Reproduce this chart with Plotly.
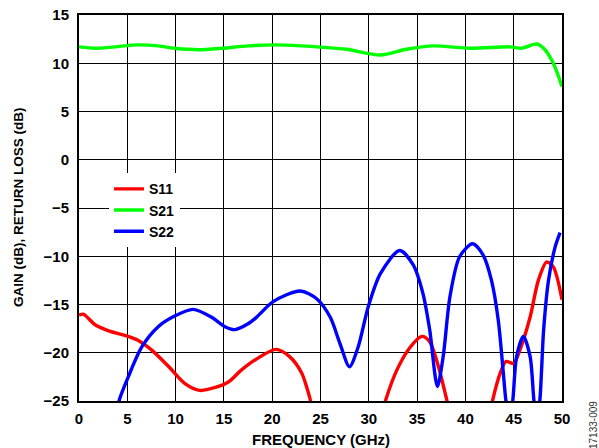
import plotly.graph_objects as go

# Frequency sweep points (GHz) and measured responses (dB) for each S-parameter
s11_freq = [0.0, 0.45, 1.66, 3.0, 4.76, 6.1, 7.5, 9.25, 10.97, 12.5, 14.1, 15.5, 16.8,
            18.3, 20.4, 21.8, 23.05, 23.9, 24.5, 31.2, 31.75, 32.9, 34.3, 35.5,
            36.3, 37.2, 38.1, 38.6, 42.4, 42.8, 43.6, 44.2, 45.0, 45.65, 46.7,
            47.55, 48.4, 49.1, 50.0]
s11_db = [-16.1, -16.0, -17.1, -17.7, -18.2, -18.7, -19.7, -21.4, -23.2, -23.9, -23.6,
          -23.0, -21.8, -20.7, -19.65, -20.4, -22.1, -24.7, -27.0, -27.0, -24.9,
          -21.8, -19.4, -18.3, -18.85, -21.4, -25.0, -27.0, -27.0, -25.0, -22.1,
          -20.9, -21.1, -19.7, -16.3, -12.5, -10.6, -11.1, -14.5]

s21_freq = [0.0, 1.66, 3.7, 6.1, 8.2, 9.9, 12.35, 14.8, 17.5, 20.3, 23.0, 25.3,
            27.7, 31.2, 33.9, 36.7, 40.5, 44.6, 45.8, 47.4, 48.1, 49.1, 50.0]
s21_db = [11.7, 11.55, 11.7, 11.9, 11.8, 11.55, 11.4, 11.55, 11.8, 11.9, 11.8, 11.65,
          11.45, 10.85, 11.45, 11.8, 11.55, 11.7, 11.55, 12.0, 11.55, 10.0, 7.6]

s22_freq = [3.7, 4.17, 5.1, 6.5, 8.2, 9.9, 11.8, 13.7, 15.1, 16.15, 17.5, 18.4, 20.1,
            22.9, 24.6, 26.0, 27.0, 28.0, 28.9, 29.95, 31.2, 33.2, 34.6, 35.6,
            36.3, 37.1, 37.7, 38.4, 39.4, 40.75, 41.85, 42.7, 43.4, 43.9, 44.2,
            44.55, 44.9, 45.3, 46.0, 46.7, 47.1, 47.4, 47.7, 48.1, 48.6, 49.3, 49.8]
s22_db = [-27.0, -24.9, -22.5, -19.4, -17.3, -16.2, -15.5, -16.3, -17.3, -17.6, -17.0,
          -16.3, -14.7, -13.6, -14.4, -16.3, -19.0, -21.45, -19.4, -15.2, -11.8,
          -9.4, -10.9, -13.85, -17.6, -23.5, -20.4, -14.2, -10.05, -8.7, -9.9,
          -12.5, -16.6, -21.8, -25.0, -27.0, -25.0, -20.4, -18.3, -20.4, -25.0,
          -27.0, -25.0, -17.6, -12.5, -9.0, -7.55]

x_ticks = [0, 5, 10, 15, 20, 25, 30, 35, 40, 45, 50]
y_ticks = [-25, -20, -15, -10, -5, 0, 5, 10, 15]

FONT = "Arial, Liberation Sans, sans-serif"

fig = go.Figure()
series = [
    ("S11", s11_freq, s11_db, "#ff0000"),
    ("S21", s21_freq, s21_db, "#00ff00"),
    ("S22", s22_freq, s22_db, "#0000ff"),
]
for name, f, v, color in series:
    fig.add_trace(go.Scatter(
        x=f, y=v, name=name, mode="lines",
        line=dict(color=color, width=3.4, shape="spline", smoothing=0.8),
    ))

axis_common = dict(
    showgrid=True, gridcolor="black", gridwidth=1.4,
    showline=True, linecolor="black", linewidth=2, mirror=True,
    zeroline=False, ticks="", automargin=False,
    tickfont=dict(family=FONT, size=15, color="black", weight="bold"),
)

fig.update_xaxes(range=[0, 50], tickvals=x_ticks, ticklabelstandoff=3, **axis_common)
fig.update_yaxes(range=[-25, 15], tickvals=y_ticks, ticklabelstandoff=5, **axis_common)

fig.update_layout(
    width=599, height=448,
    margin=dict(l=79, r=37, t=15, b=47),
    paper_bgcolor="white", plot_bgcolor="white",
    showlegend=True,
    legend=dict(
        x=0.062, y=0.59, xanchor="left", yanchor="top",
        bgcolor="white", borderwidth=0,
        font=dict(family=FONT, size=14, color="black", weight="bold"),
        itemwidth=30, tracegroupgap=0,
    ),
    annotations=[
        dict(text="FREQUENCY (GHz)", xref="paper", yref="paper", x=0.5, y=0,
             xanchor="center", yanchor="top", yshift=-28, showarrow=False,
             font=dict(family=FONT, size=15, color="black", weight="bold")),
        dict(text="GAIN (dB), RETURN LOSS (dB)", xref="paper", yref="paper",
             x=0, y=0.5, xanchor="center", yanchor="middle", xshift=-61,
             textangle=-90, showarrow=False,
             font=dict(family=FONT, size=13.5, color="black", weight="bold")),
        dict(text="17133-009", xref="paper", yref="paper", x=1, y=0,
             xanchor="center", yanchor="middle", xshift=31, yshift=-24,
             textangle=-90, showarrow=False,
             font=dict(family=FONT, size=10, color="#333333")),
    ],
)

fig.write_html("out.html")
